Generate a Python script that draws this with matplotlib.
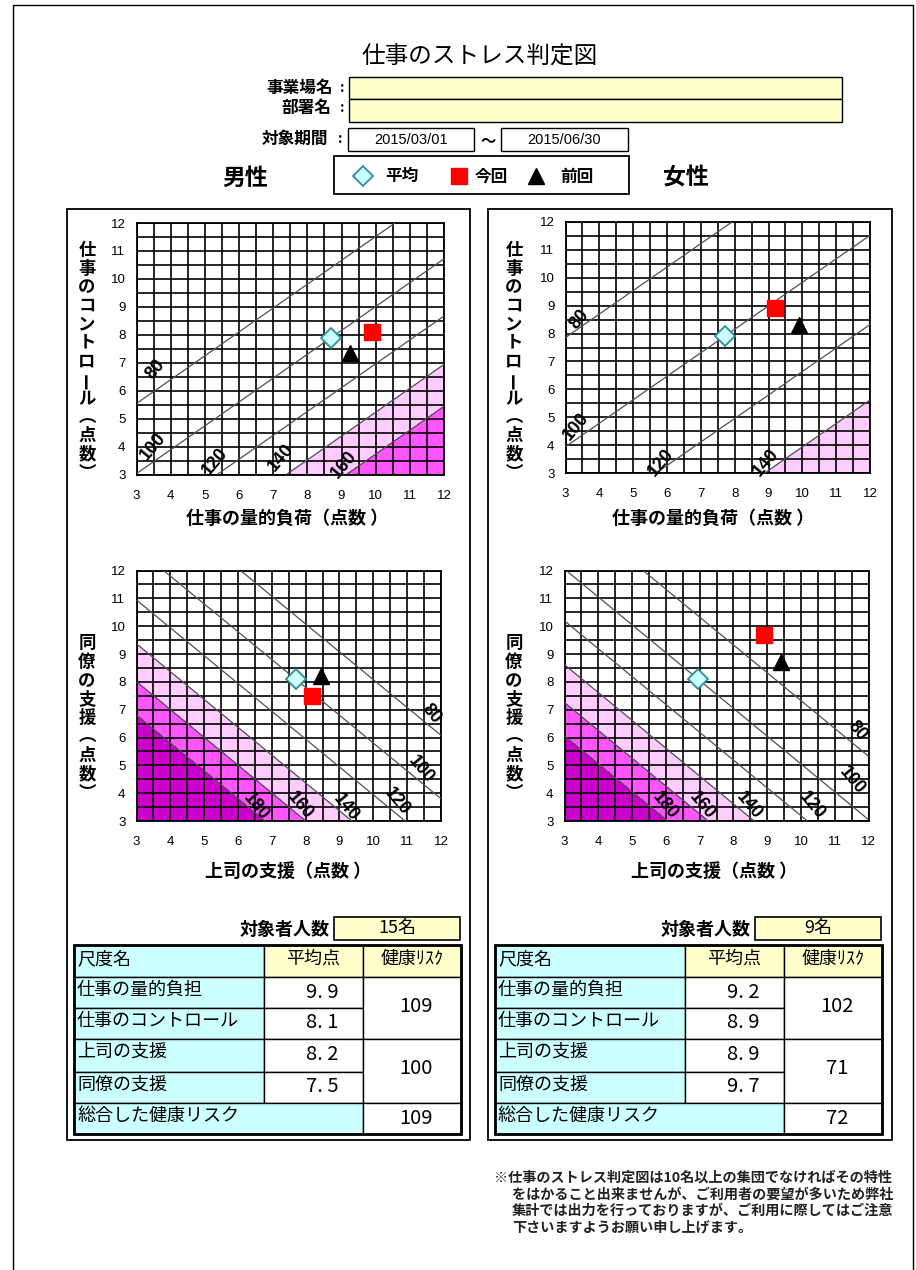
import numpy as np
import matplotlib
matplotlib.use('Agg')
import matplotlib.pyplot as plt
from matplotlib.patches import Rectangle

plt.rcParams['font.family'] = ['Noto Sans CJK JP', 'DejaVu Sans']

W, H = 916, 1270

# ------------------------------------------------------------------ data
title = '仕事のストレス判定図'
period_start = '2015/03/01'
period_end = '2015/06/30'
group_names = ['男性', '女性']
legend_labels = ['平均', '今回', '前回']

axis_ticks = [3, 4, 5, 6, 7, 8, 9, 10, 11, 12]

# demand-control chart (x: 仕事の量的負荷, y: 仕事のコントロール)
male_dc_avg = [8.7, 7.9]
male_dc_now = [9.9, 8.1]
male_dc_prev = [9.25, 7.35]
female_dc_avg = [7.7, 7.9]
female_dc_now = [9.2, 8.9]
female_dc_prev = [9.9, 8.3]

# support chart (x: 上司の支援, y: 同僚の支援)
male_sup_avg = [7.7, 8.1]
male_sup_now = [8.2, 7.5]
male_sup_prev = [8.45, 8.2]
female_sup_avg = [6.95, 8.1]
female_sup_now = [8.9, 9.7]
female_sup_prev = [9.4, 8.7]

# risk model coefficients (risk = 100*exp(...))
male_dc_coef = [0.076, 0.089]
female_dc_coef = [0.048, 0.057]
male_sup_coef = [0.098, 0.098]
female_sup_coef = [0.098, 0.098]

male_dc_levels = [80, 100, 120, 140, 160]
female_dc_levels = [80, 100, 120, 140]
sup_levels = [80, 100, 120, 140, 160, 180]

male_dc_fill = [140, 160, 1e9]
female_dc_fill = [140, 1e9]
sup_fill = [140, 160, 180, 1e9]

# table
scale_names = ['仕事の量的負担', '仕事のコントロール', '上司の支援', '同僚の支援']
male_count = '15名'
female_count = '9名'
male_scores = [9.9, 8.1, 8.2, 7.5]
female_scores = [9.2, 8.9, 8.9, 9.7]
male_risks = [109, 100]
female_risks = [102, 71]
male_total = 109
female_total = 72

note_lines = ['※仕事のストレス判定図は10名以上の集団でなければその特性',
              'をはかること出来ませんが、ご利用者の要望が多いため弊社',
              '集計では出力を行っておりますが、ご利用に際してはご注意',
              '下さいますようお願い申し上げます。']

# ------------------------------------------------------------------ layout / style
C_LIGHT = '#ffccff'
C_MAG = '#ff55ff'
C_PURPLE = '#cc00cc'
C_CYAN = '#ccffff'
C_YEL = '#ffffcc'
DIAMOND_EDGE = '#2f8f8f'

fig = plt.figure(figsize=(W / 100, H / 100), dpi=100)
base = fig.add_axes([0, 0, 1, 1])
base.set_xlim(0, W)
base.set_ylim(H, 0)
base.axis('off')


def rect(x0, y0, x1, y1, fc='none', ec='black', lw=1.0, z=1):
    base.add_patch(Rectangle((x0, y0), x1 - x0, y1 - y0, fc=fc, ec=ec, lw=lw, zorder=z))


def txt(x, y, s, size=10, ha='center', va='center', weight='normal', **kw):
    base.text(x, y, s, fontsize=size, ha=ha, va=va, fontweight=weight, **kw)


def px_axes(x0, y0, x1, y1):
    return fig.add_axes([x0 / W, 1 - y1 / H, (x1 - x0) / W, (y1 - y0) / H])


# page frame
base.plot([13, 13, 913, 913], [1275, 5, 5, 1275], color='black', lw=1.0)

# header
txt(480, 57, title, size=17)
txt(333, 88, '事業場名', size=12, ha='right', weight='bold')
txt(342, 88, ':', size=10, weight='bold')
txt(331, 108, '部署名', size=12, ha='right', weight='bold')
txt(342, 108, ':', size=10, weight='bold')
rect(349, 77, 842, 99, fc=C_YEL)
rect(349, 99, 842, 121.5, fc=C_YEL)
txt(328, 139, '対象期間', size=12, ha='right', weight='bold')
txt(340, 139, ':', size=10, weight='bold')
rect(348, 128, 474, 151, fc='white')
rect(501, 128, 628, 151, fc='white')
txt(411, 139.5, period_start, size=10.5, family=['Liberation Sans'])
txt(564, 139.5, period_end, size=10.5, family=['Liberation Sans'])
txt(488, 140, '～', size=11, weight='bold')

# legend
rect(334, 155.5, 629, 194, fc='white', lw=1.3)
base.plot([363], [176], marker='D', ms=10, mfc=C_CYAN, mec=DIAMOND_EDGE, mew=1.3, ls='none')
txt(402, 176, legend_labels[0], size=12, weight='bold')
base.plot([459], [176], marker='s', ms=11, mfc='#ff0000', mec='#ff0000', ls='none')
txt(491, 177, legend_labels[1], size=12, weight='bold')
base.plot([536], [176], marker='^', ms=11, mfc='black', mec='black', ls='none')
txt(577, 177, legend_labels[2], size=12, weight='bold')

txt(245, 178, group_names[0], size=16.5, weight='bold')
txt(686, 178, group_names[1], size=16.5, weight='bold')

# panels
rect(67, 209, 470, 1140, lw=1.3)
rect(488, 209, 892, 1140, lw=1.3)


def risk_field(kind, avg, coef):
    g = np.linspace(3, 12, 451)
    X, Y = np.meshgrid(g, g)
    if kind == 'dc':
        Z = 100 * np.exp(coef[0] * (X - avg[0]) - coef[1] * (Y - avg[1]))
    else:
        Z = 100 * np.exp(-coef[0] * (X - avg[0]) - coef[1] * (Y - avg[1]))
    return X, Y, Z


def draw_chart(box, kind, avg, now, prev, coef, levels, fill_levels, label_pos, rot):
    ax = px_axes(*box)
    X, Y, Z = risk_field(kind, avg, coef)
    fill_cols = [C_LIGHT, C_MAG, C_PURPLE][:len(fill_levels) - 1]
    ax.contourf(X, Y, Z, levels=fill_levels, colors=fill_cols, zorder=0.5)
    ax.contour(X, Y, Z, levels=levels, colors='#505050', linewidths=0.9, zorder=3)
    ax.set_xlim(3, 12)
    ax.set_ylim(3, 12)
    ax.set_xticks(axis_ticks)
    ax.set_yticks(axis_ticks)
    ax.set_xticks(np.arange(3.5, 12, 1.0), minor=True)
    ax.set_yticks(np.arange(3.5, 12, 1.0), minor=True)
    ax.grid(which='both', color='black', lw=1.2)
    ax.set_axisbelow(False)
    ax.tick_params(which='both', length=0)
    ax.tick_params(axis='x', pad=11, labelsize=9.5)
    ax.tick_params(axis='y', pad=8, labelsize=9.5)
    for lab in ax.get_xticklabels() + ax.get_yticklabels():
        lab.set_fontfamily(['Liberation Sans'])
    for sp in ax.spines.values():
        sp.set_linewidth(1.3)
    for lev, (lx, ly) in zip(levels, label_pos):
        ax.text(lx, ly, str(lev), fontsize=13, fontweight='bold', rotation=rot,
                ha='center', va='center', family=['Liberation Sans'], zorder=4)
    ax.plot(avg[0], avg[1], marker='D', ms=10, mfc=C_CYAN, mec=DIAMOND_EDGE, mew=1.3,
            ls='none', zorder=5)
    ax.plot(prev[0], prev[1], marker='^', ms=12, mfc='black', mec='black', ls='none', zorder=5)
    ax.plot(now[0], now[1], marker='s', ms=12, mfc='#ff0000', mec='#ff0000', ls='none', zorder=6)
    return ax


male_dc_lab = [(3.56, 6.75), (3.49, 4.01), (5.29, 3.47), (7.23, 3.6), (9.08, 3.36)]
female_dc_lab = [(3.41, 8.5), (3.32, 4.68), (5.83, 3.36), (8.94, 3.36)]
male_sup_lab = [(11.7, 6.85), (11.4, 4.85), (10.7, 3.7), (9.19, 3.48), (7.82, 3.55), (6.54, 3.5)]
female_sup_lab = [(11.66, 6.23), (11.51, 4.44), (10.32, 3.54), (8.45, 3.54), (7.07, 3.54), (5.98, 3.54)]

draw_chart((136.5, 223, 444, 474.5), 'dc', male_dc_avg, male_dc_now, male_dc_prev,
           male_dc_coef, male_dc_levels, male_dc_fill, male_dc_lab, 50)
draw_chart((565.5, 222, 870, 473), 'dc', female_dc_avg, female_dc_now, female_dc_prev,
           female_dc_coef, female_dc_levels, female_dc_fill, female_dc_lab, 50)
draw_chart((136.5, 570.5, 441, 821), 'sup', male_sup_avg, male_sup_now, male_sup_prev,
           male_sup_coef, sup_levels, sup_fill, male_sup_lab, -50)
draw_chart((564.5, 570.5, 868.5, 821), 'sup', female_sup_avg, female_sup_now, female_sup_prev,
           female_sup_coef, sup_levels, sup_fill, female_sup_lab, -50)

# axis titles
for cx in (287, 713):
    txt(cx, 518, '仕事の量的負荷（点数 ）', size=13, weight='bold')
    txt(cx + 1, 871, '上司の支援（点数 ）', size=13, weight='bold')


def vertical(x, y0, s, step=18.6, size=12.5):
    for i, ch in enumerate(s):
        r = 90 if ch == 'ー' else 0
        base.text(x, y0 + i * step, ch, fontsize=size, fontweight='bold', ha='center',
                  va='center', rotation=r)


for vx in (87, 514):
    vertical(vx, 250, '仕事のコントロール︵点数︶')
    vertical(vx, 643, '同僚の支援︵点数︶', step=18.75)


# tables
def draw_table(dx, count, scores, risks, total):
    cx = [74 + dx, 264 + dx, 363 + dx, 461 + dx]
    ry = [945, 977, 1008, 1039, 1072, 1103, 1134]
    txt(330 + dx, 929, '対象者人数', size=13, ha='right', weight='bold')
    rect(334 + dx, 917, 460 + dx, 940, fc=C_YEL, lw=1.2)
    txt(397 + dx, 928, count, size=13)
    # header
    rect(cx[0], ry[0], cx[1], ry[1], fc=C_CYAN)
    rect(cx[1], ry[0], cx[2], ry[1], fc=C_YEL)
    rect(cx[2], ry[0], cx[3], ry[1], fc=C_YEL)
    txt(cx[0] + 3, ry[0] + 14, '尺度名', size=13, ha='left')
    txt((cx[1] + cx[2]) / 2, ry[0] + 14, '平均点', size=13)
    txt((cx[2] + cx[3]) / 2, ry[0] + 14, '健康ﾘｽｸ', size=13)
    for i, (nm, sc) in enumerate(zip(scale_names, scores)):
        rect(cx[0], ry[i + 1], cx[1], ry[i + 2], fc=C_CYAN)
        rect(cx[1], ry[i + 1], cx[2], ry[i + 2], fc='white')
        txt(cx[0] + 3, ry[i + 1] + 13, nm, size=13, ha='left')
        txt(cx[1] + 58, ry[i + 1] + 15, f'{sc:.1f}'.replace('.', '. '), size=14.5)
    rect(cx[2], ry[1], cx[3], ry[3], fc='white')
    rect(cx[2], ry[3], cx[3], ry[5], fc='white')
    txt((cx[2] + cx[3]) / 2 + 4, (ry[1] + ry[3]) / 2 - 2, str(risks[0]), size=14.5)
    txt((cx[2] + cx[3]) / 2 + 4, (ry[3] + ry[5]) / 2 - 2, str(risks[1]), size=14.5)
    rect(cx[0], ry[5], cx[2], ry[6], fc=C_CYAN)
    rect(cx[2], ry[5], cx[3], ry[6], fc='white')
    txt(cx[0] + 3, ry[5] + 13, '総合した健康リスク', size=13, ha='left')
    txt((cx[2] + cx[3]) / 2 + 4, ry[5] + 15, str(total), size=14.5)
    rect(cx[0], ry[0], cx[3], ry[6], lw=2.0, z=2)


draw_table(0, male_count, male_scores, male_risks, male_total)
draw_table(421, female_count, female_scores, female_risks, female_total)

# footnote
note_x = [494, 512, 512, 512]
for i, (line, nx) in enumerate(zip(note_lines, note_x)):
    txt(nx, 1178 + i * 16.5, line, size=10.2, ha='left', weight='bold', color='#222222')

fig.savefig('out.png', dpi=100)
